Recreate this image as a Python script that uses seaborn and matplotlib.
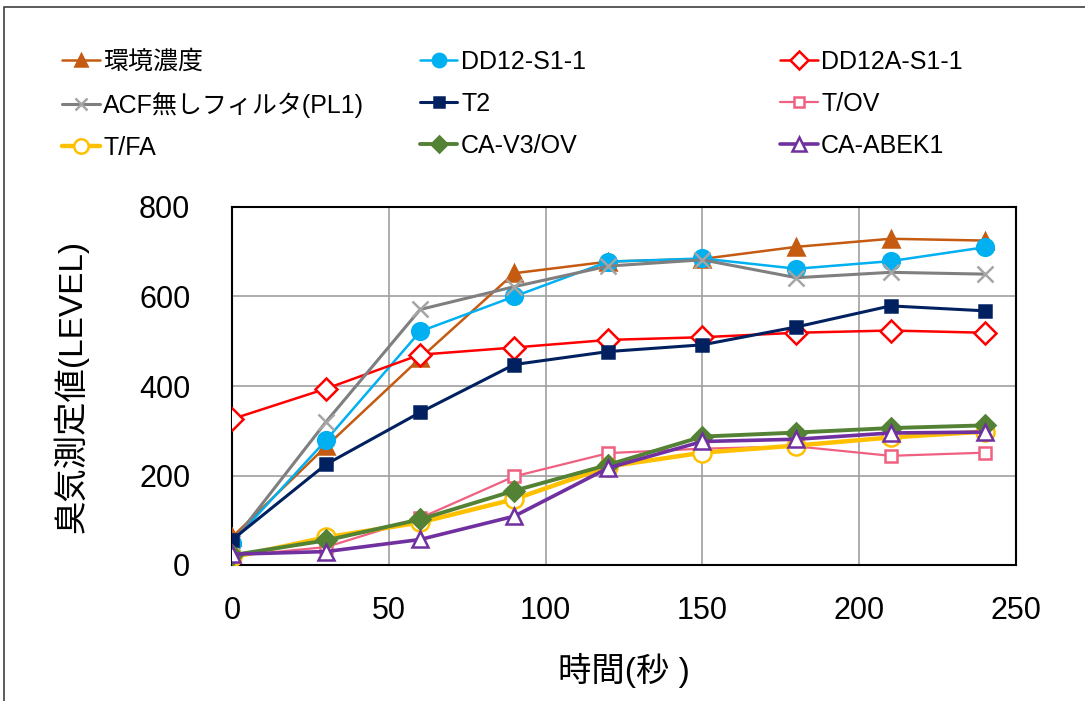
import numpy as np
import pandas as pd
import seaborn as sns
import matplotlib.pyplot as plt
from matplotlib.patches import Rectangle

# ---------------------------------------------------------------------------
# Data
# ---------------------------------------------------------------------------

time_s = [0, 30, 60, 90, 120, 150, 180, 210, 240]

series_names = ['環境濃度', 'DD12-S1-1', 'DD12A-S1-1',
                'ACF無しフィルタ(PL1)', 'T2', 'T/OV',
                'T/FA', 'CA-V3/OV', 'CA-ABEK1']

env_level   = [62, 265, 462, 652, 678, 684, 711, 729, 725]
dd12        = [50, 279, 522, 600, 678, 685, 662, 679, 710]
dd12a       = [326, 394, 470, 486, 503, 509, 519, 524, 519]
acf_none    = [50, 320, 571, 622, 668, 682, 642, 654, 650]
t2          = [56, 225, 341, 448, 477, 492, 532, 579, 568]
t_ov        = [20, 40, 105, 198, 250, 260, 265, 244, 251]
t_fa        = [17, 62, 95, 147, 220, 251, 267, 285, 298]
ca_v3_ov    = [22, 55, 102, 166, 224, 287, 296, 306, 312]
ca_abek1    = [24, 30, 57, 109, 217, 276, 281, 295, 297]

values = [env_level, dd12, dd12a, acf_none, t2, t_ov, t_fa, ca_v3_ov, ca_abek1]

# style per series: line colour, marker, marker face, marker edge, line width, marker size
styles = {
    '環境濃度':            ('#C55A11', '^', '#C55A11', '#C55A11', 1.8, 11),
    'DD12-S1-1':           ('#00B0F0', 'o', '#00B0F0', '#00B0F0', 1.8, 12),
    'DD12A-S1-1':          ('#FF0000', 'D', 'white',   '#FF0000', 1.8, 11),
    'ACF無しフィルタ(PL1)': ('#7F7F7F', 'x', '#A5A5A5', '#A5A5A5', 2.2, 11),
    'T2':                  ('#002060', 's', '#002060', '#002060', 2.2, 9),
    'T/OV':                ('#F06080', 's', 'white',   '#F06080', 1.6, 9),
    'T/FA':                ('#FFC000', 'o', 'white',   '#FFC000', 3.2, 13),
    'CA-V3/OV':            ('#548235', 'D', '#548235', '#548235', 2.8, 10),
    'CA-ABEK1':            ('#7030A0', '^', 'white',   '#7030A0', 2.6, 12),
}

long_df = pd.DataFrame({
    'time': np.tile(time_s, len(series_names)),
    'level': np.concatenate(values),
    'series': np.repeat(series_names, len(time_s)),
})

# ---------------------------------------------------------------------------
# Plot
# ---------------------------------------------------------------------------

sns.set_style('white')
plt.rcParams['font.family'] = ['Liberation Sans Narrow', 'Liberation Sans', 'Noto Sans CJK JP', 'DejaVu Sans']
plt.rcParams['text.color'] = 'black'
plt.rcParams['axes.labelcolor'] = 'black'
plt.rcParams['xtick.color'] = 'black'
plt.rcParams['ytick.color'] = 'black'

fig = plt.figure(figsize=(10.85, 7.01), dpi=100)
ax = fig.add_axes([232 / 1085, 1 - 565 / 701, (1016 - 232) / 1085, (565 - 207) / 701])

for name in series_names:
    color, marker, face, edge, lw, ms = styles[name]
    sub = long_df[long_df['series'] == name]
    sns.lineplot(data=sub, x='time', y='level', ax=ax, color=color,
                 linewidth=lw, marker=marker, markersize=ms,
                 markerfacecolor=face, markeredgecolor=edge,
                 markeredgewidth=1.8, label=name, zorder=3)

ax.set_xlim(0, 250)
ax.set_ylim(0, 800)
ax.set_xticks(range(0, 251, 50))
ax.set_yticks(range(0, 801, 200))
ax.grid(True, color='#A0A0A0', linewidth=1.2)
ax.set_axisbelow(True)
for sp in ax.spines.values():
    sp.set_color('black')
    sp.set_linewidth(1.5)
ax.tick_params(axis='x', length=0, labelsize=22, pad=22)
ax.tick_params(axis='y', length=0, labelsize=22, pad=30)
ax.set_xlabel('時間(秒 )', fontsize=24, labelpad=20)
ax.set_ylabel('臭気測定値(LEVEL)', fontsize=24, labelpad=36)

handles, labels = ax.get_legend_handles_labels()
ax.get_legend().remove()

# one legend per column, rows read left to right like the reference
col_x = [52, 410, 770]
for c in range(3):
    idx = [r * 3 + c for r in range(3)]
    fig.legend([handles[i] for i in idx], [labels[i] for i in idx],
               loc='upper left', bbox_to_anchor=(col_x[c] / 1085, 1 - 40 / 701),
               frameon=False, fontsize=18, handlelength=1.5, handletextpad=0.15,
               labelspacing=0.72, borderaxespad=0, markerscale=0.8)

# thin outer frame like the spreadsheet chart area
fig.add_artist(Rectangle((4 / 1085, -0.05), 1.2, 1.05 - 7 / 701, transform=fig.transFigure,
                         fill=False, edgecolor='#404040', linewidth=1.2))

fig.savefig('out.png', dpi=100)
